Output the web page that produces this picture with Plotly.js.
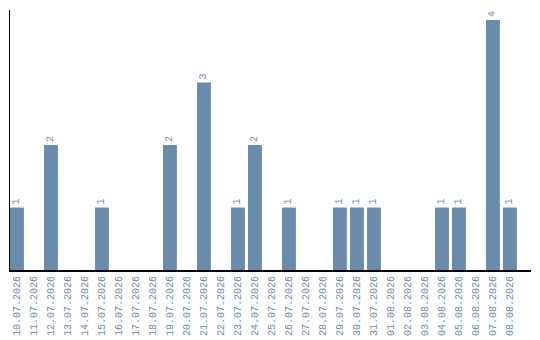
<!DOCTYPE html>
<html>
<head>
<meta charset="utf-8">
<script src="https://cdn.plot.ly/plotly-3.0.1.min.js"></script>
<style>
  html, body { margin: 0; padding: 0; background: #fff; }
  #chart { width: 540px; height: 340px; }
</style>
</head>
<body>
<div id="chart"></div>
<script>
// Daily counts, 10.07.2026 – 08.08.2026
const dates = [
  "10.07.2026", "11.07.2026", "12.07.2026", "13.07.2026", "14.07.2026",
  "15.07.2026", "16.07.2026", "17.07.2026", "18.07.2026", "19.07.2026",
  "20.07.2026", "21.07.2026", "22.07.2026", "23.07.2026", "24.07.2026",
  "25.07.2026", "26.07.2026", "27.07.2026", "28.07.2026", "29.07.2026",
  "30.07.2026", "31.07.2026", "01.08.2026", "02.08.2026", "03.08.2026",
  "04.08.2026", "05.08.2026", "06.08.2026", "07.08.2026", "08.08.2026"
];
const counts = [
  1, 0, 2, 0, 0,
  1, 0, 0, 0, 2,
  0, 3, 0, 1, 2,
  0, 1, 0, 0, 1,
  1, 1, 0, 0, 0,
  1, 1, 0, 4, 1
];

const barColor = "#6a8cac";
const textColor = "#6a8cae";
const mono = "Liberation Mono, monospace";

const trace = {
  type: "bar",
  x: dates,
  y: counts,
  marker: { color: barColor },
  text: counts.map(v => (v > 0 ? String(v) : "")),
  textposition: "outside",
  textangle: -90,
  cliponaxis: false,
  textfont: { family: mono, size: 10, color: textColor },
  hoverinfo: "x+y"
};

const layout = {
  width: 540,
  height: 340,
  margin: { l: 10, r: 9, t: 10, b: 70 },
  paper_bgcolor: "#ffffff",
  plot_bgcolor: "#ffffff",
  showlegend: false,
  bargap: 0.18,
  xaxis: {
    type: "category",
    range: [-0.41, 30.24],
    tickangle: -90,
    ticks: "",
    tickfont: { family: mono, size: 10, color: textColor },
    showgrid: false,
    zeroline: false,
    showline: true,
    linecolor: "#000000",
    linewidth: 2
  },
  yaxis: {
    range: [0, 4.16],
    showticklabels: false,
    ticks: "",
    showgrid: false,
    zeroline: false,
    showline: true,
    linecolor: "#000000",
    linewidth: 1.5
  }
};

Plotly.newPlot("chart", [trace], layout, { displayModeBar: false, staticPlot: true });
</script>
</body>
</html>
